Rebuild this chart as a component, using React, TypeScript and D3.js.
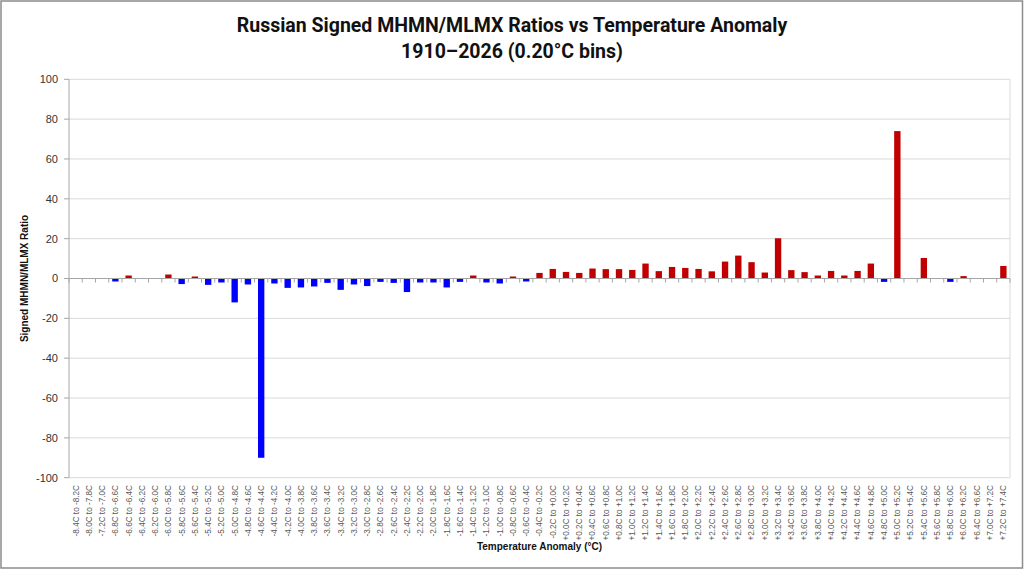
import React from "react";
import * as d3 from "d3";

const titleLines = ["Russian Signed MHMN/MLMX Ratios vs Temperature Anomaly", "1910–2026 (0.20°C bins)"];
const yAxisTitle = "Signed MHMN/MLMX Ratio";
const xAxisTitle = "Temperature Anomaly (°C)";

const categories = [
  "-8.4C to -8.2C", "-8.0C to -7.8C", "-7.2C to -7.0C", "-6.8C to -6.6C", "-6.6C to -6.4C",
  "-6.4C to -6.2C", "-6.2C to -6.0C", "-6.0C to -5.8C", "-5.8C to -5.6C", "-5.6C to -5.4C",
  "-5.4C to -5.2C", "-5.2C to -5.0C", "-5.0C to -4.8C", "-4.8C to -4.6C", "-4.6C to -4.4C",
  "-4.4C to -4.2C", "-4.2C to -4.0C", "-4.0C to -3.8C", "-3.8C to -3.6C", "-3.6C to -3.4C",
  "-3.4C to -3.2C", "-3.2C to -3.0C", "-3.0C to -2.8C", "-2.8C to -2.6C", "-2.6C to -2.4C",
  "-2.4C to -2.2C", "-2.2C to -2.0C", "-2.0C to -1.8C", "-1.8C to -1.6C", "-1.6C to -1.4C",
  "-1.4C to -1.2C", "-1.2C to -1.0C", "-1.0C to -0.8C", "-0.8C to -0.6C", "-0.6C to -0.4C",
  "-0.4C to -0.2C", "-0.2C to +0.0C", "+0.0C to +0.2C", "+0.2C to +0.4C", "+0.4C to +0.6C",
  "+0.6C to +0.8C", "+0.8C to +1.0C", "+1.0C to +1.2C", "+1.2C to +1.4C", "+1.4C to +1.6C",
  "+1.6C to +1.8C", "+1.8C to +2.0C", "+2.0C to +2.2C", "+2.2C to +2.4C", "+2.4C to +2.6C",
  "+2.6C to +2.8C", "+2.8C to +3.0C", "+3.0C to +3.2C", "+3.2C to +3.4C", "+3.4C to +3.6C",
  "+3.6C to +3.8C", "+3.8C to +4.0C", "+4.0C to +4.2C", "+4.2C to +4.4C", "+4.4C to +4.6C",
  "+4.6C to +4.8C", "+4.8C to +5.0C", "+5.0C to +5.2C", "+5.2C to +5.4C", "+5.4C to +5.6C",
  "+5.6C to +5.8C", "+5.8C to +6.0C", "+6.0C to +6.2C", "+6.4C to +6.6C", "+7.0C to +7.2C",
  "+7.2C to +7.4C",
];

const ratios = [
  0, 0, 0, -1.5, 1.5,
  0, 0, 2, -2.8, 1,
  -3.2, -2, -12, -3, -90,
  -2.5, -4.7, -4.5, -4, -2.2,
  -5.7, -3, -3.8, -1.7, -2.2,
  -6.8, -2, -2, -4.5, -1.7,
  1.5, -2, -2.5, 1, -1.5,
  2.8, 4.8, 3.3, 2.8, 5,
  4.7, 4.7, 4.3, 7.5, 3.7,
  5.8, 5.3, 4.8, 3.6, 8.5,
  11.5, 8.2, 3, 20.2, 4.2,
  3.2, 1.5, 3.8, 1.5, 3.8,
  7.5, -1.7, 74, 0, 10.3,
  0, -1.7, 1.2, 0, 0,
  6.3,
];

const yTicks = [-100, -80, -60, -40, -20, 0, 20, 40, 60, 80, 100];

const W = 1024;
const H = 570;
const plot = { left: 69, right: 1010, top: 79.3, bottom: 477.7 };

export default function App() {
  const x = d3
    .scaleBand<string>()
    .domain(categories)
    .range([plot.left, plot.right])
    .paddingInner(0.52)
    .paddingOuter(0.26);
  const y = d3.scaleLinear().domain([-100, 100]).range([plot.bottom, plot.top]);
  const step = x.step();
  const y0 = y(0);
  const labelFont = "'Liberation Sans', Arial, sans-serif";

  return (
    <svg
      width={W}
      height={H}
      viewBox={`0 0 ${W} ${H}`}
      style={{ position: "absolute", left: 0, top: 0, background: "#fff" }}
    >
      <rect x={0} y={0} width={W} height={H} fill="#fff" />
      <rect x={1} y={1} width={1021.5} height={567} fill="none" stroke="#8c8c8c" strokeWidth={1.5} />

      {titleLines.map((t, i) => (
        <text
          key={t}
          x={512}
          y={32 + i * 26}
          textAnchor="middle"
          fontFamily="Roboto, 'Liberation Sans', Arial, sans-serif"
          fontWeight="bold"
          fontSize={19.5}
          fill="#111"
        >
          {t}
        </text>
      ))}

      {/* gridlines */}
      {yTicks.map((t) => (
        <line
          key={t}
          x1={plot.left}
          x2={plot.right}
          y1={y(t)}
          y2={y(t)}
          stroke="#d9d9d9"
          strokeWidth={1}
        />
      ))}
      <line x1={plot.right} x2={plot.right} y1={plot.top} y2={plot.bottom} stroke="#d9d9d9" strokeWidth={1} />

      {/* bars */}
      {categories.map((c, i) => {
        const v = ratios[i];
        if (v === 0) return null;
        const yv = y(v);
        return (
          <rect
            key={c}
            x={x(c)}
            y={Math.min(yv, y0)}
            width={x.bandwidth()}
            height={Math.abs(yv - y0)}
            fill={v > 0 ? "#c00000" : "#0000ff"}
          />
        );
      })}

      {/* y axis */}
      <line x1={plot.left} x2={plot.left} y1={plot.top} y2={plot.bottom} stroke="#a6a6a6" strokeWidth={1} />
      {yTicks.map((t) => (
        <g key={t}>
          <line x1={plot.left - 5} x2={plot.left} y1={y(t)} y2={y(t)} stroke="#a6a6a6" strokeWidth={1} />
          <text
            x={58}
            y={y(t)}
            dy="0.36em"
            textAnchor="end"
            fontFamily={labelFont}
            fontSize={11}
            fill="#333"
          >
            {t}
          </text>
        </g>
      ))}

      {/* category axis at 0 */}
      <line x1={plot.left} x2={plot.right} y1={y0} y2={y0} stroke="#a6a6a6" strokeWidth={1} />
      {categories.map((c, i) => {
        const bx = plot.left + i * step;
        return <line key={"t" + c} x1={bx} x2={bx} y1={y0} y2={y0 + 4} stroke="#a6a6a6" strokeWidth={1} />;
      })}
      <line x1={plot.right} x2={plot.right} y1={y0} y2={y0 + 4} stroke="#a6a6a6" strokeWidth={1} />

      {categories.map((c) => {
        const cx = (x(c) as number) + x.bandwidth() / 2;
        return (
          <text
            key={"l" + c}
            transform={`translate(${cx},485) rotate(-90)`}
            textAnchor="end"
            dy="0.35em"
            fontFamily={labelFont}
            fontSize={8.2}
            fill="#595959"
          >
            {c}
          </text>
        );
      })}

      <text
        transform={`translate(24,${(plot.top + plot.bottom) / 2}) rotate(-90)`}
        textAnchor="middle"
        dy="0.35em"
        fontFamily={labelFont}
        fontWeight="bold"
        fontSize={10}
        fill="#111"
      >
        {yAxisTitle}
      </text>
      <text
        x={(plot.left + plot.right) / 2}
        y={550}
        textAnchor="middle"
        fontFamily={labelFont}
        fontWeight="bold"
        fontSize={10}
        fill="#111"
      >
        {xAxisTitle}
      </text>
    </svg>
  );
}
